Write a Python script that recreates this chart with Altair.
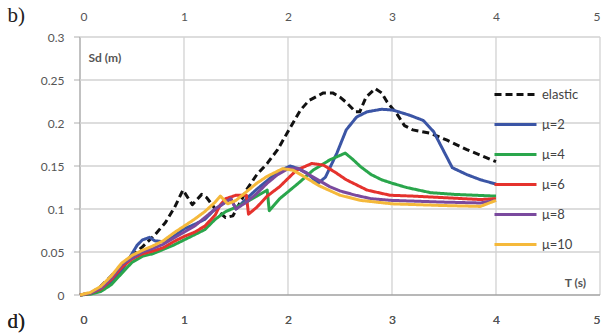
import altair as alt
import pandas as pd

series_names = ["elastic", "μ=2", "μ=4", "μ=6", "μ=8", "μ=10"]
series_colors = ["#111111", "#3B55A5", "#2AA64C", "#E5322D", "#7A4A9E", "#F5B93B"]
series_dashes = [[7, 4], [1, 0], [1, 0], [1, 0], [1, 0], [1, 0]]

elastic_T = [0, 0.1, 0.2, 0.3, 0.4, 0.5, 0.6, 0.72, 0.82, 0.91, 0.99, 1.08, 1.17, 1.22, 1.3, 1.4, 1.47,
             1.55, 1.6, 1.7, 1.8, 1.9, 2.0, 2.12, 2.2, 2.34, 2.43, 2.5, 2.56, 2.65, 2.69, 2.75, 2.84,
             2.9, 2.95, 3.05, 3.12, 3.2, 3.37, 3.53, 3.72, 3.9, 4.0]
elastic_Sd = [0, 0.002, 0.01, 0.022, 0.035, 0.045, 0.056, 0.07, 0.084, 0.102, 0.122, 0.105, 0.117, 0.113,
              0.1, 0.09, 0.092, 0.11, 0.122, 0.14, 0.153, 0.169, 0.19, 0.215, 0.226, 0.235, 0.235, 0.23,
              0.224, 0.213, 0.213, 0.23, 0.24, 0.235, 0.225, 0.21, 0.197, 0.192, 0.188, 0.18, 0.169,
              0.16, 0.155]

mu2_T = [0, 0.1, 0.2, 0.3, 0.4, 0.5, 0.55, 0.6, 0.67, 0.72, 0.8, 0.9, 1.0, 1.1, 1.2, 1.3, 1.4, 1.45,
         1.5, 1.6, 1.7, 1.8, 1.9, 2.02, 2.1, 2.18, 2.29, 2.36, 2.47, 2.56, 2.66, 2.76, 2.9, 3.01, 3.17,
         3.3, 3.4, 3.58, 3.72, 3.85, 4.0]
mu2_Sd = [0, 0.002, 0.006, 0.015, 0.028, 0.048, 0.058, 0.064, 0.067, 0.063, 0.062, 0.068, 0.077, 0.082,
          0.088, 0.1, 0.108, 0.112, 0.1, 0.112, 0.123, 0.133, 0.143, 0.15, 0.147, 0.142, 0.13, 0.137,
          0.165, 0.192, 0.207, 0.213, 0.216, 0.215, 0.209, 0.203, 0.19, 0.148, 0.14, 0.134, 0.129]

mu4_T = [0, 0.1, 0.2, 0.3, 0.4, 0.5, 0.6, 0.7, 0.8, 0.9, 1.0, 1.1, 1.2, 1.3, 1.4, 1.5, 1.6, 1.7, 1.8,
         1.82, 1.92, 2.0, 2.1, 2.24, 2.4, 2.55, 2.62, 2.7, 2.8, 2.9, 3.0, 3.14, 3.37, 3.6, 3.8, 4.0]
mu4_Sd = [0, 0.001, 0.004, 0.012, 0.025, 0.038, 0.045, 0.048, 0.053, 0.058, 0.064, 0.07, 0.076, 0.088,
          0.097, 0.102, 0.108, 0.115, 0.122, 0.098, 0.112, 0.12, 0.13, 0.145, 0.157, 0.165, 0.158,
          0.149, 0.14, 0.134, 0.13, 0.125, 0.119, 0.117, 0.116, 0.115]

mu6_T = [0, 0.1, 0.2, 0.3, 0.4, 0.5, 0.6, 0.7, 0.8, 0.9, 1.0, 1.1, 1.2, 1.3, 1.35, 1.4, 1.5, 1.6,
         1.62, 1.7, 1.8, 1.92, 2.08, 2.23, 2.34, 2.45, 2.56, 2.76, 2.98, 3.2, 3.53, 3.85, 4.0]
mu6_Sd = [0, 0.002, 0.007, 0.018, 0.032, 0.042, 0.048, 0.051, 0.055, 0.062, 0.068, 0.073, 0.08, 0.093,
          0.105, 0.112, 0.116, 0.116, 0.094, 0.102, 0.115, 0.126, 0.145, 0.153, 0.151, 0.143, 0.134,
          0.122, 0.116, 0.115, 0.113, 0.111, 0.112]

mu8_T = [0, 0.1, 0.2, 0.3, 0.4, 0.5, 0.6, 0.7, 0.8, 0.9, 1.0, 1.1, 1.2, 1.3, 1.4, 1.45, 1.5, 1.6, 1.7,
         1.8, 1.9, 2.0, 2.1, 2.2, 2.3, 2.4, 2.5, 2.65, 2.8, 3.0, 3.5, 3.85, 4.0]
mu8_Sd = [0, 0.002, 0.008, 0.02, 0.035, 0.043, 0.05, 0.054, 0.059, 0.066, 0.073, 0.08, 0.09, 0.1,
          0.108, 0.112, 0.1, 0.108, 0.118, 0.13, 0.14, 0.147, 0.147, 0.14, 0.133, 0.126, 0.121, 0.116,
          0.112, 0.11, 0.108, 0.107, 0.11]

mu10_T = [0, 0.1, 0.2, 0.3, 0.4, 0.5, 0.6, 0.7, 0.8, 0.9, 1.0, 1.1, 1.2, 1.3, 1.35, 1.42, 1.5, 1.6,
          1.7, 1.8, 1.95, 2.05, 2.15, 2.3, 2.5, 2.7, 3.0, 3.5, 3.85, 4.0]
mu10_Sd = [0, 0.003, 0.01, 0.022, 0.037, 0.046, 0.052, 0.057, 0.063, 0.072, 0.08, 0.088, 0.097, 0.108,
           0.115, 0.106, 0.11, 0.12, 0.13, 0.138, 0.147, 0.145, 0.138, 0.127, 0.116, 0.11, 0.106,
           0.104, 0.103, 0.11]

x_ticks = [0, 1, 2, 3, 4, 5]
y_ticks = [0, 0.05, 0.1, 0.15, 0.2, 0.25, 0.3]

all_T = [elastic_T, mu2_T, mu4_T, mu6_T, mu8_T, mu10_T]
all_Sd = [elastic_Sd, mu2_Sd, mu4_Sd, mu6_Sd, mu8_Sd, mu10_Sd]
rows = []
for name, ts, sds in zip(series_names, all_T, all_Sd):
    for i, (t, s) in enumerate(zip(ts, sds)):
        rows.append({"series": name, "T": t, "Sd": s, "i": i})
df = pd.DataFrame(rows)

FONT = "Lato"
LABEL_COLOR = "#555555"
GRID = "#d2d2d2"
DOMAIN = "#a0a0a0"

# grid / frame lines built from the tick arrays, coloured through the shared colour scale
x_min, x_max = x_ticks[0], x_ticks[-1]
y_min, y_max = y_ticks[0], y_ticks[-1]
grid_rows = []
for v in x_ticks:
    kind = "frame" if v == x_min else "grid"
    grid_rows += [{"gid": f"x{v}", "series": kind, "T": v, "Sd": y_min, "i": 0},
                  {"gid": f"x{v}", "series": kind, "T": v, "Sd": y_max, "i": 1}]
for v in y_ticks:
    kind = "frame" if v == y_min else "grid"
    grid_rows += [{"gid": f"y{v}", "series": kind, "T": x_min, "Sd": v, "i": 0},
                  {"gid": f"y{v}", "series": kind, "T": x_max, "Sd": v, "i": 1}]
grid_df = pd.DataFrame(grid_rows)

color_domain = series_names + ["grid", "frame"]
color_range = series_colors + [GRID, DOMAIN]
dash_range = series_dashes + [[1, 0], [1, 0]]

x_scale = alt.Scale(domain=[0, 5], nice=False)
y_scale = alt.Scale(domain=[0, 0.3], nice=False)

x_axis_bottom = alt.Axis(orient="bottom", values=x_ticks, ticks=False, grid=False, domain=False,
                         labelPadding=19, labelFont=FONT, labelFontSize=12, labelColor=LABEL_COLOR,
                         title="d)", titleFont="Liberation Serif", titleFontSize=21,
                         titleFontWeight="normal", titleColor="#222222", titleAlign="left",
                         titleBaseline="middle", titleX=-73, titleY=26)
y_axis = alt.Axis(values=y_ticks, format="~g", grid=False, domain=False, ticks=False, labelPadding=16,
                  labelFont=FONT, labelFontSize=12, labelColor=LABEL_COLOR, title="Sd (m)",
                  titleAngle=0, titleFont=FONT, titleFontSize=12, titleFontWeight="bold",
                  titleColor="#555555", titleAlign="left", titleBaseline="middle",
                  titleX=8, titleY=20)
x_axis_top = alt.Axis(orient="top", values=x_ticks, ticks=False, grid=False, domain=False,
                      labelPadding=14, labelFont=FONT, labelFontSize=12, labelColor=LABEL_COLOR,
                      title="b)", titleFont="Liberation Serif", titleFontSize=21,
                      titleFontWeight="normal", titleColor="#222222", titleAlign="left",
                      titleBaseline="middle", titleX=-73, titleY=-22)

legend_kw = dict(title=None, orient="none", legendX=413, legendY=35, values=series_names,
                 symbolType="stroke", symbolSize=1764, symbolStrokeWidth=3,
                 labelFont=FONT, labelFontSize=13, labelColor="#444444",
                 labelOffset=4, rowPadding=-3.5, padding=0)

color_enc = alt.Color("series:N", scale=alt.Scale(domain=color_domain, range=color_range),
                      legend=alt.Legend(**legend_kw))

grid = alt.Chart(grid_df).mark_line(strokeWidth=1.3).encode(
    x=alt.X("T:Q", scale=x_scale, axis=x_axis_bottom),
    y=alt.Y("Sd:Q", scale=y_scale, axis=y_axis),
    detail="gid:N",
    color=color_enc,
    order="i:Q",
)

yticks_layer = alt.Chart(pd.DataFrame({"Sd": y_ticks})).mark_tick(
    orient="horizontal", size=6, thickness=1.2, color=DOMAIN
).encode(x=alt.value(-3), y=alt.Y("Sd:Q", scale=y_scale, axis=y_axis))

lines = alt.Chart(df).mark_line(strokeWidth=3, strokeJoin="round").encode(
    x=alt.X("T:Q", scale=x_scale, axis=x_axis_bottom),
    y=alt.Y("Sd:Q", scale=y_scale, axis=y_axis),
    color=color_enc,
    strokeDash=alt.StrokeDash("series:N", scale=alt.Scale(domain=color_domain, range=dash_range),
                              legend=alt.Legend(**legend_kw)),
    order="i:Q",
)

top_axis = alt.Chart(pd.DataFrame({"T": x_ticks})).mark_point(opacity=0).encode(
    x=alt.X("T:Q", scale=x_scale, axis=x_axis_top),
    y=alt.value(0),
)

t_label = alt.Chart(pd.DataFrame({"label": ["T (s)"]})).mark_text(
    font=FONT, fontSize=12, fontWeight="bold", color="#555555", align="right", baseline="middle"
).encode(text="label:N", x=alt.value(506), y=alt.value(246))

chart = alt.layer(grid, yticks_layer, lines, top_axis, t_label).properties(
    width=520, height=258,
    autosize=alt.AutoSizeParams(type="none"),
    padding={"left": 80, "top": 37, "right": 7, "bottom": 39},
    background="white",
).configure_view(stroke=None)

chart.save("out.html", embed_options={"renderer": "svg", "actions": False})
